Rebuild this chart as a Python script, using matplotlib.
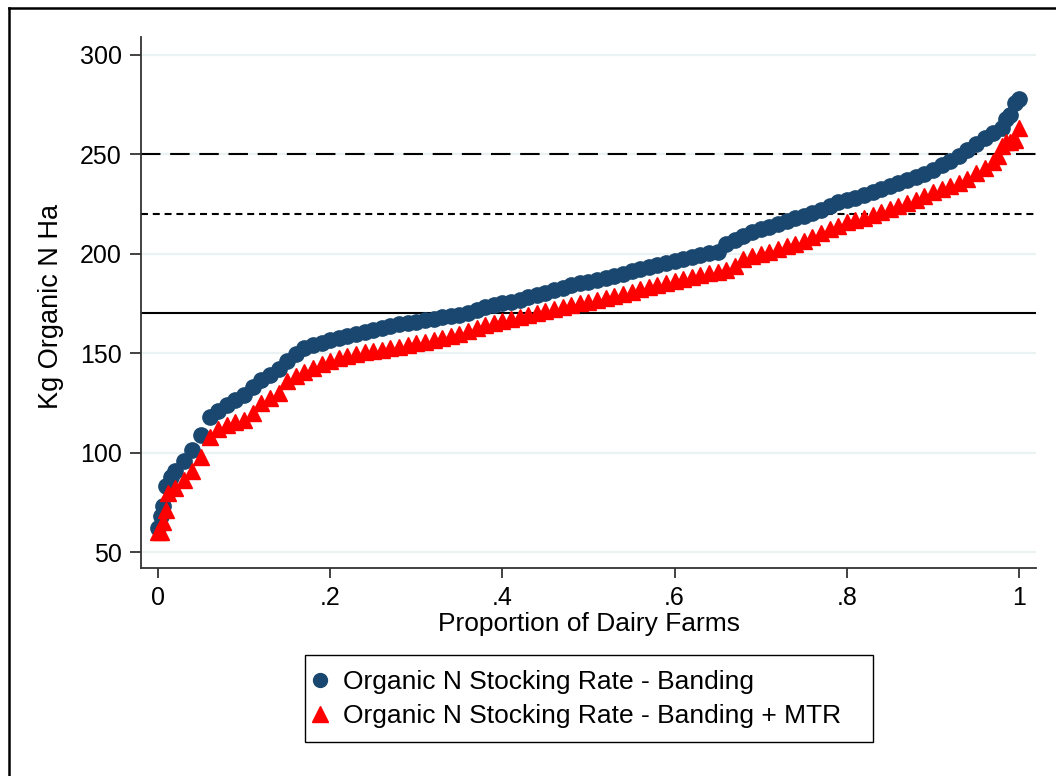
import matplotlib
matplotlib.use("Agg")
import matplotlib.pyplot as plt
from matplotlib.lines import Line2D
from matplotlib.patches import Rectangle
import numpy as np

plt.rcParams['font.family'] = ['Liberation Sans', 'DejaVu Sans']
plt.rcParams['lines.scale_dashes'] = False

# ---- data ----
prop_banding = [0.000, 0.003, 0.006, 0.009, 0.015, 0.02, 0.03, 0.04, 0.05, 0.06, 0.07, 0.08, 0.09,
                0.10, 0.11, 0.12, 0.13, 0.14, 0.15, 0.16, 0.17, 0.18, 0.19, 0.20, 0.21, 0.22, 0.23,
                0.24, 0.25, 0.26, 0.27, 0.28, 0.29, 0.30, 0.31, 0.32, 0.33, 0.34, 0.35, 0.36, 0.37,
                0.38, 0.39, 0.40, 0.41, 0.42, 0.43, 0.44, 0.45, 0.46, 0.47, 0.48, 0.49, 0.50, 0.51,
                0.52, 0.53, 0.54, 0.55, 0.56, 0.57, 0.58, 0.59, 0.60, 0.61, 0.62, 0.63, 0.64, 0.65,
                0.66, 0.67, 0.68, 0.69, 0.70, 0.71, 0.72, 0.73, 0.74, 0.75, 0.76, 0.77, 0.78, 0.79,
                0.80, 0.81, 0.82, 0.83, 0.84, 0.85, 0.86, 0.87, 0.88, 0.89, 0.90, 0.91, 0.92, 0.93,
                0.94, 0.95, 0.96, 0.97, 0.98, 0.985, 0.99, 0.995, 1.0]
n_banding = [62, 68, 73, 83, 88, 91, 96, 101.5, 109, 118, 121, 124, 126.5,
             129, 133, 136.5, 139, 142, 146, 149.5, 152.5, 154, 155, 156.5, 157.5, 158.5, 159.5,
             160.5, 161.5, 162.5, 163.5, 164.5, 165, 165.5, 166.5, 167, 168, 168.5, 169, 170, 171.5,
             173, 174, 175, 176, 177, 178.5, 179.5, 180.5, 182, 183, 184.5, 185.5, 186, 187,
             188, 189, 190, 191.5, 192.5, 193.5, 194.5, 195.5, 196.5, 197.5, 198.5, 199.5, 200.5, 201,
             205, 207, 209, 211, 212.5, 213.5, 215, 216.5, 218, 219, 220.5, 222, 224, 226,
             227, 228, 229.5, 231, 232.5, 234, 235.5, 237, 238.5, 240, 242, 244.5, 246.5, 249,
             252, 255, 258, 260.5, 263, 268, 270, 276, 278]

prop_mtr = [0.000, 0.003, 0.006, 0.009, 0.012, 0.02, 0.03, 0.04, 0.05, 0.06, 0.07, 0.08, 0.09,
            0.10, 0.11, 0.12, 0.13, 0.14, 0.15, 0.16, 0.17, 0.18, 0.19, 0.20, 0.21, 0.22, 0.23,
            0.24, 0.25, 0.26, 0.27, 0.28, 0.29, 0.30, 0.31, 0.32, 0.33, 0.34, 0.35, 0.36, 0.37,
            0.38, 0.39, 0.40, 0.41, 0.42, 0.43, 0.44, 0.45, 0.46, 0.47, 0.48, 0.49, 0.50, 0.51,
            0.52, 0.53, 0.54, 0.55, 0.56, 0.57, 0.58, 0.59, 0.60, 0.61, 0.62, 0.63, 0.64, 0.65,
            0.66, 0.67, 0.68, 0.69, 0.70, 0.71, 0.72, 0.73, 0.74, 0.75, 0.76, 0.77, 0.78, 0.79,
            0.80, 0.81, 0.82, 0.83, 0.84, 0.85, 0.86, 0.87, 0.88, 0.89, 0.90, 0.91, 0.92, 0.93,
            0.94, 0.95, 0.96, 0.97, 0.975, 0.98, 0.985, 0.99, 0.995, 1.0]
n_mtr = [60, 60, 65, 71, 79.5, 82, 86, 91, 98, 108, 112, 114, 115.5,
         116.5, 120, 125, 127.5, 130, 136, 138.5, 140.5, 142.5, 144.5, 146, 147.5, 148.5, 149.5,
         150.5, 151, 151.5, 152.5, 153, 154, 155, 155.5, 156.5, 157.5, 158.5, 159.5, 161, 162.5,
         164, 165, 166, 167, 168, 169, 170, 171, 172, 173, 174, 175, 176, 177,
         178, 179, 180, 181, 182.5, 183.5, 184.5, 185.5, 186.5, 187.5, 188.5, 189.5, 190.5, 191,
         192, 194, 197.5, 199, 200, 201, 202.5, 204, 205, 206.5, 208.5, 210.5, 212.5, 214,
         216, 217, 218, 219.5, 221, 222.5, 224, 225.5, 227, 229, 231, 232.5, 234, 235.5,
         237.5, 240.5, 243, 246, 249, 254, 256, 256, 257, 263]

ref_lines = [250, 220, 170]
ref_styles = [(0, (14, 7)), (0, (5, 3.5)), '-']

y_ticks = [50, 100, 150, 200, 250, 300]
x_ticks = [0, 0.2, 0.4, 0.6, 0.8, 1.0]
x_tick_labels = ['0', '.2', '.4', '.6', '.8', '1']

label_banding = 'Organic N Stocking Rate - Banding'
label_mtr = 'Organic N Stocking Rate - Banding + MTR'

BLUE = '#1a476f'
RED = '#ff0000'
GRID = '#eaf2f3'

W, H = 1056, 776
fig = plt.figure(figsize=(W / 100, H / 100), dpi=100)
ax = fig.add_axes([141 / W, 1 - 568 / H, (1036 - 141) / W, (568 - 37) / H])

for yt in y_ticks:
    ax.axhline(yt, color=GRID, lw=1.6, zorder=0)
for yv, ls in zip(ref_lines, ref_styles):
    ax.axhline(yv, color='black', lw=1.5, linestyle=ls, zorder=1)

ax.plot(prop_banding, n_banding, linestyle='none', marker='o', ms=11,
        color=BLUE, mec=BLUE, zorder=3, label=label_banding)
ax.plot(prop_mtr, n_mtr, linestyle='none', marker='^', ms=11.5,
        color=RED, mec=RED, zorder=4, label=label_mtr)

ax.set_xlim(-0.0197, 1.0197)
ax.set_ylim(42.0, 309.0)
ax.set_yticks(y_ticks)
ax.set_xticks(x_ticks)
ax.set_xticklabels(x_tick_labels)
ax.tick_params(axis='both', labelsize=18, width=1.3, color='#333333', direction='out')
ax.tick_params(axis='y', pad=5.8, length=8)
ax.tick_params(axis='x', pad=5.2, length=7.5)

for s in ['top', 'right']:
    ax.spines[s].set_visible(False)
for s in ['left', 'bottom']:
    ax.spines[s].set_linewidth(1.3)
    ax.spines[s].set_color('#333333')

ax.set_xlabel('Proportion of Dairy Farms', fontsize=19)
ax.set_ylabel('Kg Organic N Ha', fontsize=19.5)
ax.xaxis.set_label_coords(0.5, -0.083)
ax.yaxis.set_label_coords(-0.086, 0.492)

handles = [Line2D([], [], linestyle='none', marker='o', ms=10, color=BLUE),
           Line2D([], [], linestyle='none', marker='^', ms=11, color=RED)]
leg = fig.legend(handles, [label_banding, label_mtr], loc='center left',
                 bbox_to_anchor=(309.5 / W, 1 - 699 / H), fontsize=19,
                 frameon=False, handlelength=0.8, handletextpad=0.47,
                 borderpad=0, labelspacing=0.36, borderaxespad=0)

# legend frame
fig.add_artist(Rectangle((305 / W, 1 - 742 / H), (873 - 305) / W, (742 - 655) / H,
                         transform=fig.transFigure, fill=False, edgecolor='black', lw=1.0))

# figure border (left and top visible)
fig.add_artist(Line2D([9 / W, 9 / W], [0, 1 - 8 / H], color='black', lw=1.8,
                      transform=fig.transFigure))
fig.add_artist(Line2D([9 / W, 1], [1 - 8 / H, 1 - 8 / H], color='black', lw=1.8,
                      transform=fig.transFigure))

fig.savefig('out.png', dpi=100)
